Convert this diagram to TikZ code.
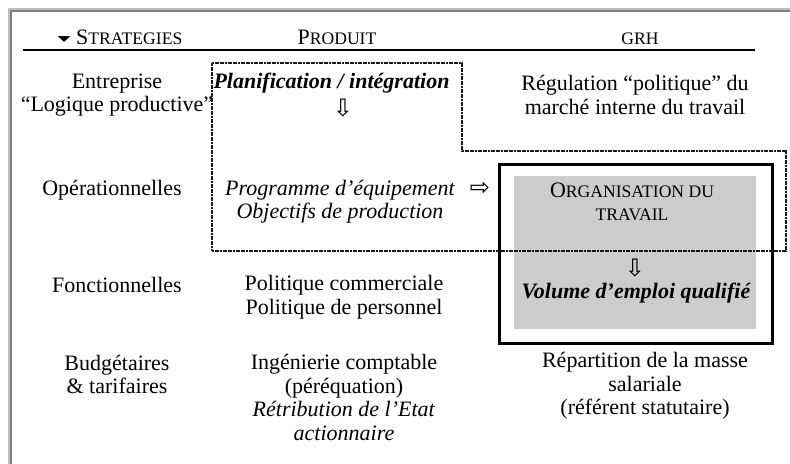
\documentclass[tikz,border=0pt]{standalone}
\usepackage{fontspec}
\setmainfont{Liberation Serif}
\newfontfamily\symfont{DejaVu Sans}
\usepackage{graphicx}
\usepackage{tikz}
\usetikzlibrary{positioning}
\newcommand{\smcap}[1]{{\fontsize{8.8}{11.75}\selectfont #1}}
\newcommand{\downarr}{{\symfont\fontsize{12}{13}\selectfont ⇩}}
\newcommand{\rightarr}{{\symfont\fontsize{12}{13}\selectfont ⇨}}
\newcommand{\wedgedown}{\raisebox{1.6pt}{\scalebox{1}[0.45]{\symfont\fontsize{8.5}{10}\selectfont ▼}}}

\begin{document}
\begin{tikzpicture}[
    x = 0.5pt, y = -0.5pt,
    font = \fontsize{11}{11.75}\selectfont,
    cell/.style = {
      align = center, inner sep = 0pt
    },
    head/.style = {
      inner sep = 0pt, anchor = base
    },
    key/.style = {
      cell, font = \fontsize{11}{11.75}\selectfont\bfseries\itshape
    },
    plan/.style = {
      cell, font = \fontsize{11}{11.75}\selectfont\itshape
    },
    arr/.style = {
      inner sep = 0pt
    },
    frame/.style = {
      line width = 1pt
    },
    zone/.style = {
      draw = black!90, line width = 1pt, dash pattern = on 1pt off 0.3pt
    },
    orgbox/.style = {
      draw, line width = 1.5pt, minimum width = 136.5pt, minimum height = 89pt,
      inner sep = 0pt
    },
    orgfill/.style = {
      fill = black!20, minimum width = 121pt, minimum height = 76.5pt,
      inner sep = 0pt
    },
    ]

    \useasboundingbox (0,0) rectangle (790,464);

    % page frame
    \draw [frame, color = black!25] (9,464) -- (9,9) -- (790,9);
    \draw [frame, color = black!50] (11,464) -- (11,11) -- (790,11);

    % column heads
    \node  [head]  (strat)  at (120,45)  {\wedgedown\ S\smcap{TRATEGIES}};
    \node  [head]  (produit)  at (337,45)  {P\smcap{RODUIT}};
    \node  [head]  (grh)  at (640,45)  {\smcap{GRH}};
    \draw  [line width = 1pt]  (23,50) -- (755,50);

    % grh box
    \node  [orgbox]  (box)  at (635.5,254)  {};
    \node  [orgfill]  (boxfill)  at (635,252.5)  {};

    % dotted zone of the product planning
    \draw  [zone]  (212,63) -- (462,63) -- (462,151) -- (786,151)
      -- (786,251) -- (212,251) -- cycle;

    % first column
    \node  [cell]  (entreprise)  at (117,95)  {Entreprise\\“Logique productive”};
    \node  [cell]  (operat)  at (112,190)  {Opérationnelles};
    \node  [cell]  (fonct)  at (117,285)  {Fonctionnelles};
    \node  [cell]  (budget)  at (117,374.5)  {Budgétaires\\\& tarifaires};

    % second column
    \node  [key]  (planif)  at (331.5,83)  {Planification / intégration};
    \node  [arr]  (down1)  at (343,108)  {\downarr};
    \node  [plan]  (programme)  at (340,201.5)  {Programme d’équipement\\Objectifs de production};
    \node  [arr]  (right1)  at (480,189)  {\rightarr};
    \node  [cell]  (politique)  at (344,297)  {Politique commerciale\\Politique de personnel};
    \node  [cell]  (ingenierie)  at (344,397.5)
      {Ingénierie comptable\\(péréquation)\\\textit{Rétribution de l’Etat}\\\textit{actionnaire}};

    % third column
    \node  [cell]  (regulation)  at (635,95)  {Régulation “politique” du\\marché interne du travail};
    \node  [cell]  (organisation)  at (632,202)  {O\smcap{RGANISATION DU}\\\smcap{TRAVAIL}};
    \node  [arr]  (down2)  at (635,268)  {\downarr};
    \node  [key]  (volume)  at (636,293)  {Volume d’emploi qualifié};
    \node  [cell]  (repartition)  at (645,386)
      {Répartition de la masse\\salariale\\(référent statutaire)};

\end{tikzpicture}
\end{document}
